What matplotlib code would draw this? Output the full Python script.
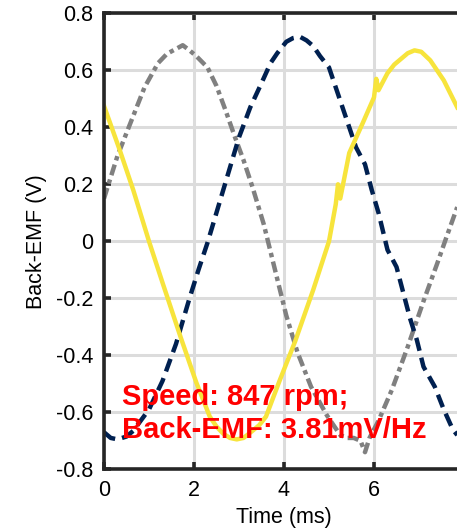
import matplotlib
matplotlib.use("Agg")
import matplotlib.pyplot as plt

# phase A (yellow, solid)
t_yel = [0, 0.35, 0.65, 1.0, 1.3, 1.7, 2.05, 2.35, 2.5, 2.65, 2.8, 2.95, 3.1,
         3.3, 3.45, 3.6, 3.9, 4.25, 4.65, 5.0, 5.15, 5.2, 5.25, 5.45, 5.75, 6.0,
         6.05, 6.1, 6.3, 6.45, 6.6, 6.75, 6.9, 7.05, 7.25, 7.55, 7.85]
v_yel = [0.475, 0.32, 0.18, 0.0, -0.145, -0.335, -0.495, -0.615, -0.65, -0.675,
         -0.69, -0.695, -0.69, -0.665, -0.645, -0.615, -0.49, -0.35, -0.17, 0.0,
         0.13, 0.2, 0.15, 0.31, 0.415, 0.505, 0.57, 0.53, 0.59, 0.62, 0.64, 0.66,
         0.67, 0.665, 0.635, 0.565, 0.47]

# phase B (navy, dashed)
t_nav = [0, 0.15, 0.3, 0.5, 0.65, 1.0, 1.3, 1.6, 1.9, 2.1, 2.3, 2.65, 3.0, 3.25,
         3.5, 3.7, 3.85, 4.05, 4.2, 4.35, 4.5, 4.65, 4.8, 5.0, 5.15, 5.3, 5.45,
         5.6, 5.8, 5.95, 6.1, 6.3, 6.5, 6.65, 6.8, 6.95, 7.1, 7.35, 7.55, 7.75,
         7.85]
v_nav = [-0.67, -0.69, -0.695, -0.685, -0.665, -0.59, -0.49, -0.36, -0.2, -0.1,
         -0.005, 0.18, 0.365, 0.47, 0.555, 0.625, 0.66, 0.7, 0.713, 0.718, 0.705,
         0.685, 0.65, 0.61, 0.54, 0.47, 0.4, 0.33, 0.27, 0.18, 0.1, -0.03, -0.09,
         -0.18, -0.27, -0.345, -0.44, -0.51, -0.59, -0.66, -0.68]

# phase C (grey, dash-dot)
t_gry = [0, 0.3, 0.65, 0.9, 1.2, 1.4, 1.6, 1.75, 1.9, 2.05, 2.3, 2.5, 2.7, 2.9,
         3.1, 3.3, 3.55, 3.8, 4.05, 4.3, 4.6, 4.95, 5.25, 5.4, 5.55, 5.7, 5.8,
         5.9, 6.1, 6.4, 6.75, 7.1, 7.4, 7.6, 7.85]
v_gry = [0.15, 0.3, 0.44, 0.54, 0.625, 0.658, 0.675, 0.688, 0.67, 0.65, 0.61,
         0.545, 0.46, 0.37, 0.285, 0.19, 0.06, -0.1, -0.26, -0.39, -0.51, -0.61,
         -0.68, -0.69, -0.69, -0.7, -0.74, -0.69, -0.63, -0.52, -0.37, -0.21,
         -0.08, 0.01, 0.12]

xticks = [0, 2, 4, 6]
yticks = [-0.8, -0.6, -0.4, -0.2, 0, 0.2, 0.4, 0.6, 0.8]
ytick_labels = ["-0.8", "-0.6", "-0.4", "-0.2", "0", "0.2", "0.4", "0.6", "0.8"]
note_lines = ["Speed: 847 rpm;", "Back-EMF: 3.81mV/Hz"]

plt.rcParams["font.family"] = ["Liberation Sans", "DejaVu Sans"]

fig = plt.figure(figsize=(4.57, 5.31), dpi=100)
# right edge of the axes sits just outside the picture (cropped original)
ax = fig.add_axes([104 / 457, 61.7 / 531, 360 / 457, 456 / 531])

ax.plot(t_gry, v_gry, color="#808080", lw=3.2, ls=(0, (2.5, 1, 1, 1)))
ax.plot(t_nav, v_nav, color="#002050", lw=3.2, ls=(0, (3, 1.6)))
ax.plot(t_yel, v_yel, color="#F7E43C", lw=3.2, ls="-")

ax.set_xlim(0, 8)
ax.set_ylim(-0.8, 0.8)
ax.set_xticks(xticks)
ax.set_yticks(yticks)
ax.set_yticklabels(ytick_labels)
ax.grid(True, color="#dcdcdc", lw=2.2)
ax.set_axisbelow(True)

for s in ax.spines.values():
    s.set_linewidth(2.6)
    s.set_color("#262626")
ax.tick_params(direction="in", length=5, width=2.6, color="#262626",
               labelsize=15.5, top=True, right=True, pad=8)

ax.set_xlabel("Time (ms)", fontsize=15.5, labelpad=4)
ax.set_ylabel("Back-EMF (V)", fontsize=15.5, labelpad=6)

ax.text(0.4, -0.574, note_lines[0], color="red", fontsize=21, fontweight="bold",
        va="baseline", ha="left")
ax.text(0.4, -0.69, note_lines[1], color="red", fontsize=21, fontweight="bold",
        va="baseline", ha="left")

fig.savefig("out.png", dpi=100)
